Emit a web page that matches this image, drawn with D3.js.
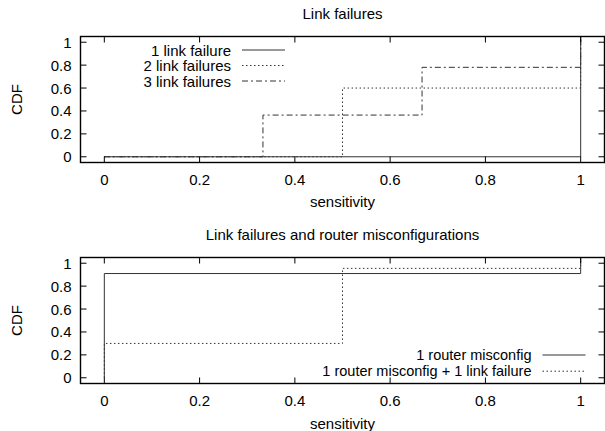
<!DOCTYPE html>
<html><head><meta charset="utf-8">
<script src="https://cdn.jsdelivr.net/npm/d3@7"></script>
<style>
html,body{margin:0;padding:0;background:#fff;}
text{font-family:"Liberation Sans",Arial,Helvetica,sans-serif;fill:#000;}
</style></head>
<body>
<svg id="chart" width="605" height="431"></svg>
<script>
// ---- data ----
const xTicks = [0, 0.2, 0.4, 0.6, 0.8, 1];
const yTicks = [0, 0.2, 0.4, 0.6, 0.8, 1];

const topTitle = "Link failures";
const topLabels = ["1 link failure", "2 link failures", "3 link failures"];
const link1X = [0, 1];
const link1Y = [0, 1];
const link2X = [0, 0.5, 1];
const link2Y = [0, 0.6, 1];
const link3X = [0, 0.333, 0.667, 1];
const link3Y = [0, 0.364, 0.781, 1];

const botTitle = "Link failures and router misconfigurations";
const botLabels = ["1 router misconfig", "1 router misconfig + 1 link failure"];
const router1X = [0, 0, 1];
const router1Y = [0, 0.91, 1];
const router2X = [0, 0, 0.5, 1];
const router2Y = [0, 0.3, 0.955, 1];

const xLabel = "sensitivity";
const yLabel = "CDF";

// ---- drawing ----
const svg = d3.select("#chart");
const FS = 15;
const lineColor = "#333";
const dashes = ["none", "1.5,2.5", "6,3,2,3"];

const x = d3.scaleLinear().domain([-0.05, 1.05]).range([80.5, 604.5]);

function panel(cfg) {
  const y = d3.scaleLinear().domain([-0.05, 1.05]).range([cfg.bottom, cfg.top]);
  const g = svg.append("g");
  const [x0, x1] = x.range();
  const [y0, y1] = y.range();

  // title
  g.append("text").attr("x", (x0 + x1) / 2).attr("y", cfg.titleY)
    .attr("text-anchor", "middle").attr("dominant-baseline", "central")
    .style("font-size", FS + "px").text(cfg.title);

  // series
  const clipId = "clip" + cfg.id;
  g.append("clipPath").attr("id", clipId).append("rect")
    .attr("x", x0).attr("y", y1).attr("width", x1 - x0).attr("height", y0 - y1);
  const line = d3.line().x(d => x(d[0])).y(d => y(d[1])).curve(d3.curveStepAfter);
  cfg.series.forEach((s, i) => {
    const pts = s.xs.map((v, k) => [v, s.ys[k]]);
    // final vertical rises to the top of the frame, as in the original
    pts.push([s.xs[s.xs.length - 1], y.domain()[1]]);
    g.append("path").attr("d", line(pts))
      .attr("clip-path", `url(#${clipId})`)
      .attr("fill", "none").attr("stroke", lineColor).attr("stroke-width", 1)
      .attr("stroke-dasharray", dashes[s.style]);
  });

  // ticks (inner, mirrored)
  const tl = 6;
  const tg = g.append("g").attr("stroke", "#000").attr("stroke-width", 1);
  xTicks.forEach(t => {
    tg.append("line").attr("x1", x(t)).attr("x2", x(t)).attr("y1", y0).attr("y2", y0 - tl);
    tg.append("line").attr("x1", x(t)).attr("x2", x(t)).attr("y1", y1).attr("y2", y1 + tl);
  });
  yTicks.forEach(t => {
    tg.append("line").attr("x1", x0).attr("x2", x0 + tl).attr("y1", y(t)).attr("y2", y(t));
    tg.append("line").attr("x1", x1).attr("x2", x1 - tl).attr("y1", y(t)).attr("y2", y(t));
  });

  // frame
  g.append("rect").attr("x", x0).attr("y", y1).attr("width", x1 - x0).attr("height", y0 - y1)
    .attr("fill", "none").attr("stroke", "#000").attr("stroke-width", 1.4);

  // tick labels
  xTicks.forEach(t => {
    g.append("text").attr("x", x(t)).attr("y", y0 + 17).attr("text-anchor", "middle")
      .attr("dominant-baseline", "central").style("font-size", FS + "px").text(d3.format("~g")(t));
  });
  yTicks.forEach(t => {
    g.append("text").attr("x", x0 - 9).attr("y", y(t)).attr("text-anchor", "end")
      .attr("dominant-baseline", "central").style("font-size", FS + "px").text(d3.format("~g")(t));
  });

  // axis labels
  g.append("text").attr("x", (x0 + x1) / 2).attr("y", cfg.xLabelY).attr("text-anchor", "middle")
    .attr("dominant-baseline", "central").style("font-size", FS + "px").text(xLabel);
  g.append("text").attr("transform", `translate(16,${(y0 + y1) / 2}) rotate(-90)`)
    .attr("text-anchor", "middle").attr("dominant-baseline", "central")
    .style("font-size", FS + "px").text(yLabel);

  // legend
  cfg.series.forEach((s, i) => {
    const ly = cfg.legendY + i * cfg.legendStep;
    g.append("text").attr("x", cfg.legendTextX).attr("y", ly).attr("text-anchor", "end")
      .attr("dominant-baseline", "central").style("font-size", cfg.legendFS + "px").text(cfg.labels[i]);
    g.append("line").attr("x1", cfg.legendTextX + 11).attr("x2", cfg.legendTextX + 54)
      .attr("y1", ly).attr("y2", ly)
      .attr("stroke", lineColor).attr("stroke-width", 1).attr("stroke-dasharray", dashes[s.style]);
  });
}

panel({
  id: "top", top: 36.5, bottom: 162.5, titleY: 13, xLabelY: 201.5,
  title: topTitle, labels: topLabels,
  legendTextX: 231, legendY: 50, legendStep: 15.5, legendFS: 15,
  series: [
    {xs: link1X, ys: link1Y, style: 0},
    {xs: link2X, ys: link2Y, style: 1},
    {xs: link3X, ys: link3Y, style: 2}
  ]
});

panel({
  id: "bot", top: 257.5, bottom: 383.5, titleY: 234, xLabelY: 423,
  title: botTitle, labels: botLabels,
  legendTextX: 531.5, legendY: 355, legendStep: 16.2, legendFS: 14.5,
  series: [
    {xs: router1X, ys: router1Y, style: 0},
    {xs: router2X, ys: router2Y, style: 1}
  ]
});
</script>
</body></html>
